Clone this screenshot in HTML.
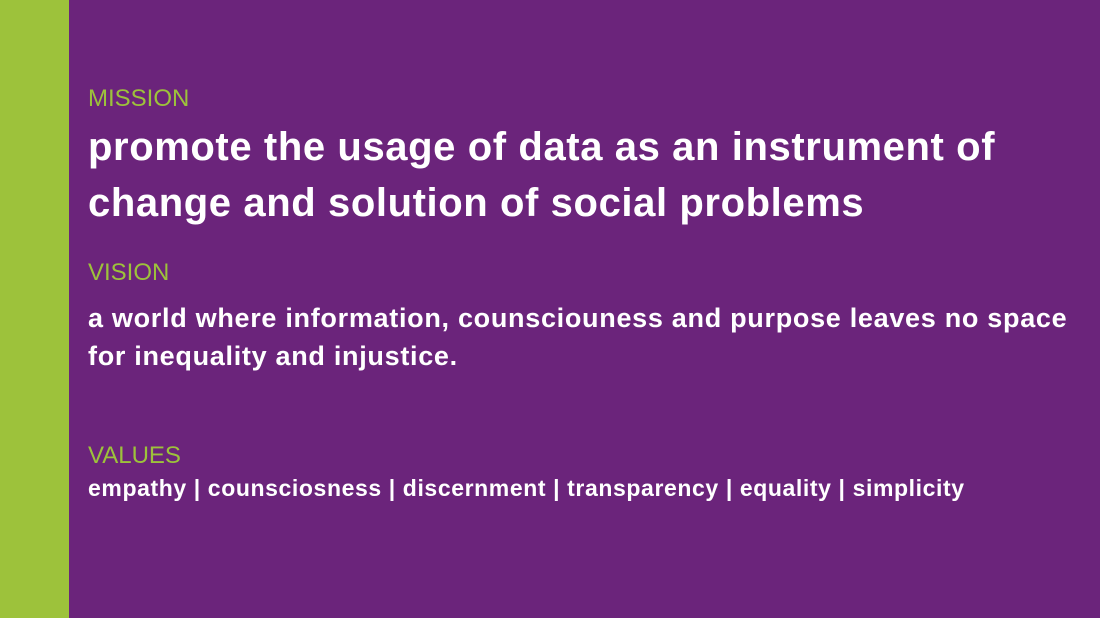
<!DOCTYPE html>
<html><head><meta charset="utf-8">
<style>
html,body{margin:0;padding:0;}
body{width:1100px;height:618px;overflow:hidden;background:#6b247b;position:relative;font-family:"Liberation Sans",sans-serif;}
.bar{position:absolute;left:0;top:0;width:69px;height:618px;background:#9dc23b;}
.lbl{position:absolute;left:88px;color:#9dc23b;font-size:24px;white-space:nowrap;}
.t{position:absolute;left:88px;color:#fff;font-weight:bold;white-space:nowrap;}
</style></head><body>
<div class="bar"></div>
<div class="lbl" style="top:85px">MISSION</div>
<div class="t" style="top:119px;font-size:40px;line-height:56px;letter-spacing:0.6px">promote the usage of data as an instrument of<br>change and solution of social problems</div>
<div class="lbl" style="top:259px">VISION</div>
<div class="t" style="top:299px;font-size:27px;line-height:38px;letter-spacing:0.7px">a world where information, counsciouness and purpose leaves no space<br>for inequality and injustice.</div>
<div class="lbl" style="top:442px">VALUES</div>
<div class="t" style="top:474px;font-size:23px;line-height:28px;letter-spacing:0.6px">empathy | counsciosness | discernment | transparency | equality | simplicity</div>
</body></html>
